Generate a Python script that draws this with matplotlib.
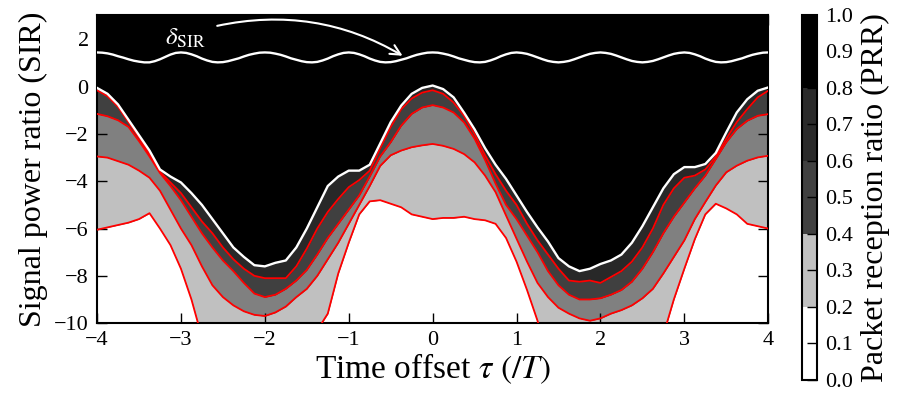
import numpy as np
import matplotlib
matplotlib.use("Agg")
import matplotlib.pyplot as plt
from matplotlib.colors import ListedColormap, BoundaryNorm
import matplotlib.colorbar as mcolorbar

plt.rcParams['font.family'] = ['Liberation Serif', 'DejaVu Serif']
plt.rcParams['mathtext.fontset'] = 'stix'

# sampling positions of time offset tau (/T)
tau = np.linspace(-4, 4, 65)
tau_fine = np.linspace(-4, 4, 129)

# PRR contour boundaries (SIR)
prr_top = [-0.05, -0.3, -0.75, -1.4, -2.05, -2.7, -3.5, -3.8, -4.05, -4.5, -5.0, -5.6, -6.2, -6.8, -7.2, -7.55, -7.6,
           -7.45, -7.35, -6.8, -6.0, -5.1, -4.2, -3.8, -3.55, -3.55, -3.3, -2.4, -1.5, -0.8, -0.3, -0.05, 0.05,
           -0.1, -0.45, -1.1, -1.8, -2.6, -3.3, -3.9, -4.6, -5.3, -5.95, -6.55, -7.25, -7.6, -7.8, -7.7, -7.5,
           -7.35, -7.1, -6.6, -5.9, -5.1, -4.3, -3.7, -3.4, -3.4, -3.27, -2.8, -1.93, -1.09, -0.53, -0.17, -0.03]
prr_08 = [-0.15, -0.4, -0.85, -1.5, -2.15, -2.85, -3.6, -4.05, -4.5, -5.1, -5.7, -6.2, -6.8, -7.3, -7.7, -8.0, -8.1,
          -8.1, -8.1, -7.6, -6.85, -6.0, -5.3, -4.75, -4.25, -3.95, -3.55, -2.6, -1.7, -0.95, -0.5, -0.25, -0.15,
          -0.3, -0.67, -1.23, -2.0, -2.9, -3.7, -4.4, -5.0, -5.8, -6.5, -7.1, -7.7, -8.2, -8.25, -8.2, -8.3,
          -8.05, -7.8, -7.4, -6.8, -6.0, -5.0, -4.3, -3.85, -3.76, -3.5, -2.95, -2.2, -1.5, -0.95, -0.45, -0.17]
prr_06 = [-1.15, -1.25, -1.42, -1.7, -2.3, -2.95, -3.65, -4.2, -4.8, -5.5, -6.2, -6.8, -7.35, -7.8, -8.3, -8.75, -8.9,
          -8.8, -8.55, -8.2, -7.75, -7.1, -6.4, -5.8, -5.2, -4.6, -3.8, -2.95, -2.35, -1.65, -1.15, -0.88, -0.78,
          -0.88, -1.09, -1.51, -2.2, -3.1, -4.1, -5.0, -5.6, -6.3, -7.0, -7.8, -8.4, -8.8, -9.0, -9.0, -8.95,
          -8.8, -8.6, -8.25, -7.7, -7.0, -6.2, -5.5, -4.9, -4.3, -3.76, -3.06, -2.35, -1.79, -1.44, -1.23, -1.16]
prr_04 = [-2.95, -3.0, -3.15, -3.3, -3.55, -3.85, -4.4, -5.2, -6.0, -6.7, -7.6, -8.4, -8.9, -9.25, -9.5, -9.65, -9.7,
          -9.55, -9.3, -8.9, -8.55, -8.0, -7.3, -6.6, -5.8, -5.0, -4.2, -3.35, -2.9, -2.7, -2.56, -2.48, -2.42,
          -2.5, -2.63, -2.85, -3.2, -3.76, -4.46, -5.45, -6.43, -7.4, -8.3, -8.9, -9.35, -9.6, -9.8, -9.9, -9.8,
          -9.6, -9.45, -9.25, -8.95, -8.55, -7.9, -7.2, -6.5, -5.6, -4.88, -4.18, -3.62, -3.34, -3.13, -2.99, -2.92]
prr_02 = [-6.05, -5.95, -5.85, -5.75, -5.6, -5.35, -6.0, -6.7, -7.7, -9.0, -10.6, -11.5, -12, -12, -12, -12, -12,
          -12, -12, -12, -12, -10.3, -9.6, -7.9, -6.6, -5.4, -4.85, -4.8, -4.95, -5.1, -5.4, -5.5, -5.6,
          -5.55, -5.55, -5.5, -5.6, -5.65, -5.8, -6.4, -7.4, -8.6, -9.9, -11.5, -12, -12, -12, -12, -12,
          -12, -12, -12, -12, -12, -10.5, -9.0, -7.7, -6.45, -5.4, -4.95, -5.15, -5.4, -5.8, -5.9, -6.0]

# delta_SIR curve (sampled every 1/16 of T)
delta_sir = [1.45, 1.44, 1.41, 1.36, 1.29, 1.23, 1.16, 1.10, 1.06, 1.03, 1.03, 1.08, 1.16, 1.26, 1.36, 1.43,
             1.45, 1.43, 1.37, 1.29, 1.19, 1.11, 1.05, 1.03, 1.04, 1.08, 1.14, 1.20, 1.28, 1.35, 1.40, 1.44,
             1.45, 1.44, 1.40, 1.35, 1.28, 1.20, 1.14, 1.08, 1.04, 1.03, 1.05, 1.11, 1.19, 1.29, 1.37, 1.43,
             1.45, 1.43, 1.37, 1.29, 1.19, 1.11, 1.05, 1.03, 1.04, 1.08, 1.14, 1.20, 1.28, 1.35, 1.40, 1.44,
             1.45, 1.44, 1.40, 1.35, 1.28, 1.20, 1.14, 1.08, 1.04, 1.03, 1.05, 1.11, 1.19, 1.29, 1.37, 1.43,
             1.45, 1.43, 1.39, 1.32, 1.24, 1.16, 1.09, 1.05, 1.03, 1.05, 1.09, 1.16, 1.24, 1.32, 1.39, 1.43,
             1.45, 1.43, 1.39, 1.32, 1.24, 1.16, 1.09, 1.05, 1.03, 1.05, 1.09, 1.16, 1.24, 1.32, 1.39, 1.43,
             1.45, 1.43, 1.37, 1.29, 1.19, 1.11, 1.05, 1.03, 1.04, 1.08, 1.14, 1.20, 1.28, 1.35, 1.40, 1.44,
             1.45]

band_colors = ['#282828', '#404040', '#808080', '#c0c0c0', '#ffffff']
cbar_levels = [0.0, 0.2, 0.4, 0.6, 0.8, 1.0]
cbar_colors = ['#ffffff', '#c0c0c0', '#404040', '#2a2a2a', '#000000']
cbar_ticks = [0.0, 0.1, 0.2, 0.3, 0.4, 0.5, 0.6, 0.7, 0.8, 0.9, 1.0]

fig = plt.figure(figsize=(9.07, 3.95), dpi=100)
ax = fig.add_axes([0.107, 0.182, 0.740, 0.781])
ax.set_facecolor('black')

curves = [np.array(prr_top), np.array(prr_08), np.array(prr_06), np.array(prr_04), np.array(prr_02)]
floor = np.full_like(tau, -12.0)
for i, c in enumerate(curves):
    lower = curves[i + 1] if i + 1 < len(curves) else floor
    ax.fill_between(tau, lower, c, color=band_colors[i], lw=0, zorder=1)

for c in curves[1:]:
    ax.plot(tau, c, color='red', lw=1.3, zorder=3)
ax.plot(tau, curves[0], color='white', lw=1.7, zorder=3)
ax.plot(tau_fine, delta_sir, color='white', lw=1.7, zorder=3)

ax.annotate('', xy=(-0.33, 1.25), xytext=(-2.6, 2.55),
            arrowprops=dict(arrowstyle='->', color='white', lw=1.5,
                            connectionstyle='arc3,rad=-0.2', mutation_scale=18), zorder=4)
ax.text(-2.95, 2.05, r'$\delta_{\mathrm{SIR}}$', color='white', fontsize=18,
        ha='center', va='center', zorder=4)

ax.set_xlim(-4, 4)
ax.set_ylim(-10, 3.05)
ax.set_xticks([-4, -3, -2, -1, 0, 1, 2, 3, 4])
ax.set_yticks([-10, -8, -6, -4, -2, 0, 2])
ax.tick_params(direction='in', length=7, width=1, labelsize=16, top=True, right=True, pad=6)
for s in ax.spines.values():
    s.set_linewidth(1.5)
ax.set_xlabel(r'Time offset $\tau$ $(/T)$', fontsize=24, labelpad=1)
ax.set_ylabel('Signal power ratio (SIR)', fontsize=23, labelpad=4)

cax = fig.add_axes([0.884, 0.038, 0.0165, 0.925])
cmap = ListedColormap(cbar_colors)
norm = BoundaryNorm(cbar_levels, cmap.N)
cb = mcolorbar.ColorbarBase(cax, cmap=cmap, norm=norm, boundaries=cbar_levels, ticks=cbar_ticks)
cb.ax.set_yticklabels([f'{t:.1f}' for t in cbar_ticks])
cb.ax.tick_params(direction='in', length=7, width=1, labelsize=16, pad=6)
cb.outline.set_linewidth(1.5)
cb.set_label('Packet reception ratio (PRR)', fontsize=23, labelpad=6)

fig.savefig('out.png', dpi=100)
